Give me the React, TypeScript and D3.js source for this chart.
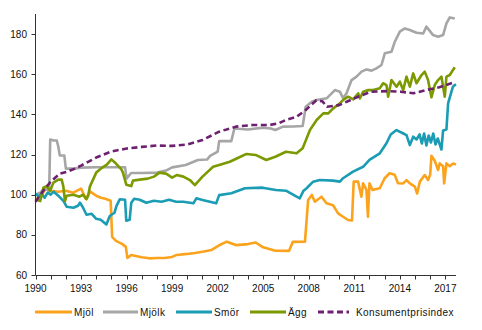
import React from "react";
import * as d3 from "d3";

const yTicks = [60, 80, 100, 120, 140, 160, 180];
const xLabelYears = [1990, 1993, 1996, 1999, 2002, 2005, 2008, 2011, 2014, 2017];

const mjol: [number, number][] = [
  [1990.0, 97], [1990.2, 99], [1990.5, 101], [1990.8, 104.5], [1991.0, 102], [1991.5, 101.5],
  [1992.0, 102], [1992.5, 101], [1993.0, 103], [1993.1, 101.5], [1993.3, 98], [1993.6, 101.5],
  [1994.0, 99.5], [1994.3, 98.5], [1994.6, 98], [1994.95, 97], [1995.05, 79], [1995.3, 77],
  [1995.7, 75.5], [1995.95, 74], [1996.05, 68.5], [1996.3, 70], [1996.6, 69.5], [1997.0, 68.8],
  [1997.5, 68.3], [1998.0, 68.5], [1998.5, 68.5], [1999.0, 69], [1999.3, 70], [2000.0, 70.5],
  [2000.5, 71], [2001.0, 71.6], [2001.6, 72.5], [2002.1, 74.8], [2002.6, 76.6], [2003.2, 74.9],
  [2004.0, 75.4], [2004.5, 76.2], [2005.0, 73.8], [2005.8, 72.1], [2006.7, 72], [2006.95, 76.5],
  [2007.75, 76.6], [2007.96, 97.4], [2008.2, 99.9], [2008.4, 96.5], [2008.84, 99], [2009.17, 95.7],
  [2009.6, 94.8], [2009.93, 90.7], [2010.26, 89], [2010.59, 87.4], [2010.85, 87.2], [2010.96, 106.5],
  [2011.25, 106.5], [2011.47, 99], [2011.58, 105.7], [2011.8, 102.4], [2011.9, 89], [2012.0, 105.7],
  [2012.2, 102.4], [2012.68, 103.2], [2013.0, 108.2], [2013.33, 110.7], [2013.66, 109.9], [2013.88, 105.7],
  [2014.22, 105.6], [2014.44, 107.3], [2014.66, 105.6], [2014.99, 104], [2015.14, 100.6], [2015.32, 106.5],
  [2015.64, 109.8], [2015.86, 107.3], [2016.0, 110], [2016.08, 119.4], [2016.3, 116.9], [2016.52, 112.3],
  [2016.63, 115.6], [2016.85, 114.2], [2016.92, 105.6], [2017.07, 115.6], [2017.29, 114.2], [2017.5, 115.5],
  [2017.7, 115],
];

const mjolk: [number, number][] = [
  [1990.0, 100], [1990.3, 101], [1990.6, 103], [1990.9, 102], [1990.97, 127.5], [1991.2, 127],
  [1991.4, 127], [1991.5, 124], [1991.6, 119.5], [1991.9, 119.5], [1992.0, 113], [1992.5, 113],
  [1993.0, 113.5], [1994.0, 113.7], [1995.0, 113.7], [1995.9, 113.7], [1996.0, 108], [1996.3, 110.8],
  [1997.0, 110.8], [1998.0, 111], [1998.6, 112], [1999.0, 113.6], [1999.9, 114.8], [2000.7, 117.3],
  [2001.3, 117.5], [2001.5, 119.3], [2002.0, 121.4], [2002.1, 126.7], [2002.9, 126.7], [2003.1, 133],
  [2004.0, 132.5], [2005.0, 133.4], [2005.5, 133], [2005.8, 132.2], [2006.3, 133.9], [2007.0, 134],
  [2007.6, 134.2], [2007.8, 143.8], [2008.2, 146.3], [2008.52, 147.2], [2009.18, 148], [2009.72, 152.1],
  [2010.05, 151.3], [2010.27, 148], [2010.49, 150.5], [2010.82, 157.1], [2011.15, 158.8], [2011.48, 161.3],
  [2011.81, 162.4], [2012.14, 161.8], [2012.46, 162.9], [2012.79, 164.6], [2013.01, 170.4], [2013.45, 171.2],
  [2013.67, 176.2], [2014.0, 181.2], [2014.33, 182.8], [2014.66, 182], [2015.1, 180.7], [2015.54, 180.3],
  [2015.75, 183.7], [2016.19, 179.5], [2016.52, 178.7], [2016.85, 179.5], [2017.07, 185.3], [2017.29, 188.3],
  [2017.62, 187.8],
];

const smor: [number, number][] = [
  [1990.0, 100.5], [1990.2, 99], [1990.4, 100.5], [1990.6, 98.5], [1990.8, 101], [1991.0, 100],
  [1991.2, 101.5], [1991.5, 99.5], [1991.83, 97], [1992.05, 94], [1992.5, 93.5], [1992.8, 94.5],
  [1992.93, 96], [1993.1, 94], [1993.36, 90], [1993.7, 90.5], [1994.0, 88], [1994.3, 87.5],
  [1994.67, 85.2], [1994.89, 89.4], [1995.2, 91], [1995.33, 94.3], [1995.55, 97.7], [1995.9, 97.5],
  [1995.98, 87], [1996.2, 87.5], [1996.31, 96], [1996.5, 98], [1996.86, 97.5], [1997.3, 96],
  [1997.8, 97], [1998.3, 96.5], [1998.8, 97.5], [1999.26, 96.5], [1999.74, 96.5], [2000.4, 95.7],
  [2000.6, 98.2], [2001.0, 97.4], [2001.9, 95.7], [2002.1, 99.8], [2002.9, 100.7], [2003.8, 103.2],
  [2004.96, 103.5], [2005.83, 102.3], [2006.5, 102], [2007.2, 99], [2007.41, 98.2], [2007.64, 101.8],
  [2007.86, 103.2], [2008.29, 106.5], [2008.73, 107.3], [2009.6, 107], [2010.05, 106.5], [2010.26, 108.2],
  [2010.92, 111.5], [2011.58, 113.9], [2012.0, 117.3], [2012.68, 120.6], [2013.12, 125.6], [2013.4, 130],
  [2013.78, 132.2], [2014.2, 130.6], [2014.44, 129.7], [2014.66, 124.7], [2014.88, 128.9], [2015.1, 127.5],
  [2015.3, 130], [2015.45, 125.5], [2015.6, 130.5], [2015.75, 124.5], [2015.9, 129.5], [2016.05, 126],
  [2016.2, 130.5], [2016.35, 125], [2016.5, 128], [2016.74, 122.5], [2016.85, 132], [2017.07, 132.5],
  [2017.18, 145.5], [2017.4, 151.3], [2017.5, 153.8], [2017.62, 154.6], [2017.7, 155],
];

const agg: [number, number][] = [
  [1990.0, 97.7], [1990.31, 96.8], [1990.52, 103.5], [1990.74, 104.3], [1990.96, 101.8], [1991.18, 106],
  [1991.5, 107.5], [1991.72, 107.6], [1991.83, 104.3], [1991.94, 96.8], [1992.05, 99.5], [1992.5, 100],
  [1992.9, 99], [1993.14, 100], [1993.36, 97.7], [1993.47, 99.5], [1993.58, 104], [1994.0, 111],
  [1994.4, 113.5], [1994.7, 115], [1995.0, 117.6], [1995.3, 115.5], [1995.66, 112.6], [1995.76, 111],
  [1995.98, 105], [1996.31, 104.3], [1996.42, 107], [1996.86, 107.5], [1997.4, 108], [1997.8, 109],
  [1998.17, 111], [1998.6, 110.5], [1999.0, 108.5], [1999.3, 109.8], [1999.74, 109], [2000.17, 107.3],
  [2000.5, 104.8], [2001.0, 109], [2001.7, 113.9], [2002.1, 114.8], [2002.8, 116.4], [2003.5, 118.9],
  [2003.9, 120.3], [2004.5, 119.8], [2005.2, 117.3], [2005.8, 118.9], [2006.5, 121.4], [2007.2, 120.6],
  [2007.6, 123.1], [2008.08, 132.2], [2008.52, 137.2], [2008.96, 140.5], [2009.29, 140.5], [2009.61, 143],
  [2010.05, 145.5], [2010.27, 147.2], [2010.6, 148.8], [2010.93, 147.5], [2011.26, 150.5], [2011.37, 148],
  [2011.59, 151.3], [2011.92, 152.1], [2012.25, 152.1], [2012.68, 153], [2012.9, 155.5], [2013.12, 154.6],
  [2013.23, 148.8], [2013.45, 157.1], [2013.78, 153.8], [2014.0, 156.3], [2014.22, 152.1], [2014.44, 158.8],
  [2014.66, 153.8], [2014.88, 160.4], [2015.1, 155.5], [2015.43, 159.6], [2015.64, 161.3], [2015.86, 157.1],
  [2016.08, 148.5], [2016.3, 154.6], [2016.52, 157.1], [2016.74, 158.8], [2016.96, 148.8], [2017.07, 158.8],
  [2017.29, 159.6], [2017.5, 162.1], [2017.62, 163.5],
];

const kpi: [number, number][] = [
  [1990.0, 96.5], [1990.5, 101.8], [1991.0, 106.5], [1991.6, 110.5], [1992.1, 111.5], [1992.6, 113],
  [1993.0, 114.5], [1994.0, 118.5], [1995.0, 121.5], [1996.0, 123], [1997.0, 123.8], [1998.0, 124.5],
  [1999.0, 124.3], [2000.0, 125], [2001.0, 127.2], [2002.1, 131.4], [2003.2, 133.9], [2004.3, 134.7],
  [2005.4, 134.7], [2006.0, 135.5], [2006.5, 137.2], [2007.2, 138.8], [2007.8, 142.2], [2008.5, 147],
  [2008.9, 146.5], [2009.2, 143.8], [2010.0, 144.6], [2010.5, 146.3], [2011.25, 148.8], [2012.1, 151.3],
  [2013.2, 151.6], [2014.05, 151.3], [2014.9, 150.5], [2015.7, 152.1], [2016.6, 153.5], [2017.5, 155.8],
];

const seriesNames = ["Mjöl", "Mjölk", "Smör", "Ägg", "Konsumentprisindex"];
const seriesData = [mjol, mjolk, smor, agg, kpi];
const seriesColors = ["#FBA31C", "#A6A6A6", "#1A9CB4", "#7B9A01", "#6D2170"];

const W = 482;
const H = 330;
const FONT = "'Liberation Sans', Arial, sans-serif";
const TEXT = "#111";

export default function App() {
  const x = d3.scaleLinear().domain([1990, 2017.7]).range([35.5, 456]);
  const y = d3.scaleLinear().domain([60, 190]).range([275, 14]);
  const line = d3
    .line<[number, number]>()
    .x((d) => x(d[0]))
    .y((d) => y(d[1]));
  const years = d3.range(1990, 2018);
  const legendX = [35, 103, 176, 250, 318];
  const legendW = [37, 35, 36, 36, 31];

  return (
    <svg
      width={W}
      height={H}
      style={{ position: "absolute", left: 0, top: 0, background: "#fff" }}
      fontFamily={FONT}
    >
      {seriesData.map((d, i) => (
        <path
          key={seriesNames[i]}
          d={line(d) || ""}
          fill="none"
          stroke={seriesColors[i]}
          strokeWidth={2.6}
          strokeLinejoin="round"
          strokeDasharray={i === 4 ? "6,3.5" : undefined}
        />
      ))}
      <line x1={35.5} x2={35.5} y1={14} y2={275} stroke="#333" strokeWidth={1} />
      {yTicks.map((t) => (
        <g key={t}>
          <line x1={31.5} x2={35.5} y1={Math.round(y(t)) + 0.5} y2={Math.round(y(t)) + 0.5} stroke="#333" />
          <text x={27} y={y(t) + 3.6} fontSize={10} textAnchor="end" fill={TEXT}>
            {t}
          </text>
        </g>
      ))}
      <line x1={35.5} x2={456} y1={275.5} y2={275.5} stroke="#333" strokeWidth={1} />
      {years.map((yr) => (
        <line
          key={yr}
          x1={Math.round(x(yr)) + 0.5}
          x2={Math.round(x(yr)) + 0.5}
          y1={275.5}
          y2={279.5}
          stroke="#333"
        />
      ))}
      {xLabelYears.map((yr) => (
        <text key={yr} x={x(yr)} y={292} fontSize={10} textAnchor="middle" fill={TEXT}>
          {yr}
        </text>
      ))}
      {seriesNames.map((n, i) => (
        <g key={n}>
          <line
            x1={legendX[i]}
            x2={legendX[i] + legendW[i]}
            y1={312}
            y2={312}
            stroke={seriesColors[i]}
            strokeWidth={3}
            strokeDasharray={i === 4 ? "6,3.5" : undefined}
          />
          <text
            x={legendX[i] + legendW[i] + (i === 4 ? 7 : 2)}
            y={315.6}
            fontSize={10}
            fill={TEXT}
            letterSpacing={0.4}
          >
            {n}
          </text>
        </g>
      ))}
    </svg>
  );
}
